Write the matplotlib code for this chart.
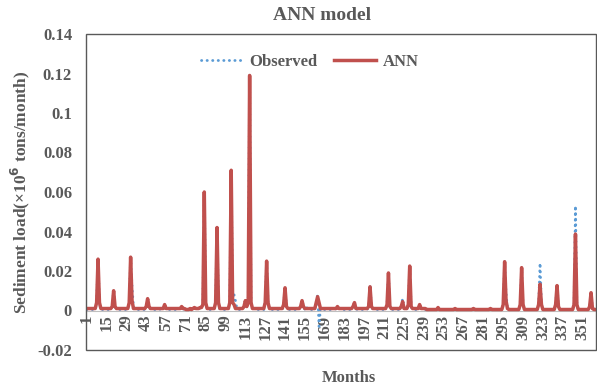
import numpy as np
import matplotlib.pyplot as plt
from matplotlib.patches import Rectangle
from matplotlib.ticker import FuncFormatter

# monthly sediment load (x10^6 tons/month), one row per year (12 months)
ann_rows = [
    [0.001, 0.001, 0.001, 0.001, 0.001, 0.001, 0.001, 0.004, 0.026, 0.004, 0.001, 0.001],
    [0.001, 0.001, 0.001, 0.001, 0.001, 0.001, 0.002, 0.010, 0.002, 0.001, 0.001, 0.001],
    [0.001, 0.001, 0.001, 0.001, 0.001, 0.001, 0.004, 0.027, 0.005, 0.001, 0.001, 0.001],
    [0.001, 0.001, 0.001, 0.001, 0.001, 0.001, 0.002, 0.006, 0.002, 0.001, 0.001, 0.001],
    [0.001, 0.001, 0.001, 0.001, 0.001, 0.001, 0.001, 0.003, 0.001, 0.001, 0.001, 0.001],
    [0.001, 0.001, 0.001, 0.001, 0.001, 0.001, 0.001, 0.002, 0.001, 0.001, 0.0005, 0.0005],
    [0.0005, 0.001, 0.0005, 0.001, 0.0015, 0.001, 0.001, 0.001, 0.0015, 0.0015, 0.003, 0.060],
    [0.004, 0.001, 0.001, 0.001, 0.001, 0.001, 0.001, 0.004, 0.042, 0.004, 0.001, 0.001],
    [0.001, 0.001, 0.001, 0.001, 0.001, 0.004, 0.071, 0.004, 0.003, 0.001, 0.001, 0.001],
    [0.001, 0.001, 0.001, 0.002, 0.005, 0.002, 0.004, 0.119, 0.004, 0.001, 0.001, 0.001],
    [0.001, 0.001, 0.001, 0.001, 0.001, 0.001, 0.004, 0.025, 0.004, 0.001, 0.001, 0.001],
    [0.001, 0.001, 0.001, 0.001, 0.001, 0.001, 0.001, 0.003, 0.0115, 0.002, 0.001, 0.001],
    [0.001, 0.001, 0.001, 0.001, 0.001, 0.001, 0.001, 0.002, 0.005, 0.002, 0.001, 0.001],
    [0.001, 0.001, 0.001, 0.001, 0.001, 0.001, 0.004, 0.007, 0.004, 0.001, 0.001, 0.001],
    [0.001, 0.001, 0.001, 0.001, 0.001, 0.001, 0.001, 0.001, 0.001, 0.002, 0.001, 0.001],
    [0.001, 0.001, 0.001, 0.001, 0.001, 0.001, 0.001, 0.001, 0.002, 0.004, 0.001, 0.001],
    [0.001, 0.001, 0.001, 0.001, 0.001, 0.001, 0.001, 0.002, 0.012, 0.002, 0.001, 0.001],
    [0.001, 0.001, 0.001, 0.001, 0.001, 0.001, 0.001, 0.001, 0.003, 0.019, 0.002, 0.001],
    [0.001, 0.001, 0.001, 0.001, 0.001, 0.001, 0.002, 0.0045, 0.001, 0.001, 0.001, 0.003],
    [0.0225, 0.002, 0.001, 0.001, 0.001, 0.001, 0.001, 0.003, 0.001, 0.001, 0.001, 0.001],
    [0.0005, 0.0005, 0.0005, 0.0005, 0.0005, 0.0005, 0.0005, 0.0005, 0.0015, 0.0005, 0.0005, 0.0005],
    [0.0005, 0.0005, 0.0005, 0.0005, 0.0005, 0.0005, 0.0005, 0.0005, 0.001, 0.0005, 0.0005, 0.0005],
    [0.0005, 0.0005, 0.0005, 0.0005, 0.0005, 0.0005, 0.0005, 0.0005, 0.0005, 0.001, 0.0005, 0.0005],
    [0.0005, 0.0005, 0.0005, 0.0005, 0.0005, 0.0005, 0.0005, 0.0005, 0.0005, 0.001, 0.0005, 0.0005],
    [0.0005, 0.0005, 0.0005, 0.0005, 0.0005, 0.0005, 0.003, 0.0247, 0.005, 0.001, 0.0005, 0.0005],
    [0.0005, 0.0005, 0.0005, 0.0005, 0.0005, 0.0005, 0.003, 0.0217, 0.003, 0.0005, 0.0005, 0.0005],
    [0.0005, 0.0005, 0.0005, 0.0005, 0.0005, 0.0005, 0.0005, 0.003, 0.0133, 0.003, 0.0005, 0.0005],
    [0.0005, 0.0005, 0.0005, 0.0005, 0.0005, 0.0005, 0.0005, 0.003, 0.0126, 0.002, 0.0005, 0.0005],
    [0.0005, 0.0005, 0.0005, 0.0005, 0.0005, 0.0005, 0.0005, 0.0005, 0.003, 0.0387, 0.003, 0.0005],
    [0.0005, 0.0005, 0.0005, 0.0005, 0.0005, 0.0005, 0.0005, 0.002, 0.009, 0.001, 0.0005, 0.0005],
]

obs_rows = [
    [0.0005, 0.0005, 0.0005, 0.0005, 0.0005, 0.0005, 0.0005, 0.004, 0.026, 0.004, 0.0005, 0.0005],
    [0.0005, 0.0005, 0.0005, 0.0005, 0.0005, 0.0005, 0.002, 0.010, 0.002, 0.0005, 0.0005, 0.0005],
    [0.0005, 0.0005, 0.0005, 0.0005, 0.0005, 0.0005, 0.004, 0.027, 0.012, 0.002, 0.0005, 0.0005],
    [0.0005, 0.0005, 0.0005, 0.0005, 0.0005, 0.0005, 0.002, 0.006, 0.002, 0.0005, 0.0005, 0.0005],
    [0.0005, 0.0005, 0.0005, 0.001, 0.0005, 0.0005, 0.0005, 0.003, 0.001, 0.0005, 0.0005, 0.0005],
    [0.0005, 0.0005, 0.0005, 0.0005, 0.0005, 0.0005, 0.001, 0.002, 0.001, 0.0005, 0.0005, 0.0005],
    [0.0005, 0.0005, 0.0005, 0.0005, 0.001, 0.0005, 0.0005, 0.001, 0.001, 0.001, 0.003, 0.060],
    [0.004, 0.001, 0.0005, 0.0005, 0.0005, 0.0005, 0.001, 0.005, 0.042, 0.004, 0.0005, 0.0005],
    [0.0005, 0.0005, 0.0005, 0.0005, 0.001, 0.004, 0.071, 0.004, 0.008, 0.005, 0.001, 0.0005],
    [0.0005, 0.0005, 0.0005, 0.002, 0.005, 0.002, 0.004, 0.119, 0.004, 0.002, 0.0005, 0.0005],
    [0.0005, 0.0005, 0.0005, 0.0005, 0.0005, 0.0005, 0.004, 0.025, 0.004, 0.0005, 0.0005, 0.0005],
    [0.0005, 0.0005, 0.0005, 0.0005, 0.0005, 0.0005, 0.0005, 0.003, 0.0115, 0.002, 0.0005, 0.0005],
    [0.0005, 0.0005, 0.0005, 0.0005, 0.0005, 0.0005, 0.0005, 0.002, 0.005, 0.002, 0.0005, 0.002],
    [0.0005, 0.0005, 0.0005, 0.0005, 0.0005, 0.0005, 0.004, 0.008, -0.008, 0.001, 0.0005, 0.0005],
    [0.0005, 0.0005, 0.0005, 0.0005, 0.0005, 0.0005, 0.0005, 0.0005, 0.001, 0.002, 0.001, 0.0005],
    [0.0005, 0.0005, 0.0005, 0.0005, 0.0005, 0.0005, 0.0005, 0.0005, 0.002, 0.004, 0.001, 0.0005],
    [0.0005, 0.0005, 0.0005, 0.0005, 0.0005, 0.0005, 0.0005, 0.002, 0.012, 0.002, 0.0005, 0.0005],
    [0.0005, 0.0005, 0.0005, 0.0005, 0.0005, 0.0005, 0.0005, 0.0005, 0.003, 0.019, 0.002, 0.0005],
    [0.0005, 0.0005, 0.0005, 0.0005, 0.0005, 0.0005, 0.002, 0.006, 0.001, 0.0005, 0.0005, 0.003],
    [0.0225, 0.002, 0.0005, 0.0005, 0.0005, 0.0005, 0.0005, 0.003, 0.001, 0.0005, 0.0005, 0.0005],
    [0.0005, 0.0005, 0.0005, 0.0005, 0.0005, 0.0005, 0.0005, 0.0005, 0.0015, 0.0005, 0.0005, 0.0005],
    [0.0005, 0.0005, 0.0005, 0.0005, 0.0005, 0.0005, 0.0005, 0.0005, 0.001, 0.0005, 0.0005, 0.0005],
    [0.0005, 0.0005, 0.0005, 0.0005, 0.0005, 0.0005, 0.0005, 0.0005, 0.0005, 0.001, 0.0005, 0.0005],
    [0.0005, 0.0005, 0.0005, 0.0005, 0.0005, 0.0005, 0.0005, 0.0005, 0.0005, 0.001, 0.0005, 0.0005],
    [0.0005, 0.0005, 0.0005, 0.0005, 0.0005, 0.0005, 0.003, 0.0247, 0.009, 0.001, 0.0005, 0.0005],
    [0.0005, 0.0005, 0.0005, 0.0005, 0.0005, 0.0005, 0.003, 0.0217, 0.003, 0.0005, 0.0005, 0.0005],
    [0.0005, 0.0005, 0.0005, 0.0005, 0.0005, 0.0005, 0.0005, 0.003, 0.024, 0.003, 0.0005, 0.0005],
    [0.0005, 0.0005, 0.0005, 0.0005, 0.0005, 0.0005, 0.0005, 0.003, 0.0126, 0.002, 0.0005, 0.0005],
    [0.0005, 0.0005, 0.0005, 0.0005, 0.0005, 0.0005, 0.0005, 0.0005, 0.003, 0.053, 0.003, 0.0005],
    [0.0005, 0.0005, 0.0005, 0.0005, 0.0005, 0.0005, 0.0005, 0.002, 0.009, 0.001, 0.0005, 0.0005],
]

ann = np.array(ann_rows).ravel()
observed = np.array(obs_rows).ravel()
months = np.arange(1, len(ann) + 1)
tick_months = np.arange(1, 352, 14)

grey = "#595959"
plt.rcParams["font.family"] = ["Liberation Serif", "DejaVu Serif"]
plt.rcParams["font.weight"] = "bold"

fig = plt.figure(figsize=(5.97, 3.90), dpi=100)
ax = fig.add_axes([86 / 597, 40 / 390, 510 / 597, 316 / 390])

ax.plot(months, observed, color="#5B9BD5", lw=2.0, ls=(0, (0.1, 1.9)),
        dash_capstyle="round", label="Observed", zorder=3)
ax.plot(months, ann, color="#C0504D", lw=2.5, label="ANN", zorder=4)

ax.set_xlim(0.5, len(ann) + 0.5)
ax.set_ylim(-0.02, 0.14)
ax.set_yticks(np.arange(-0.02, 0.1401, 0.02))
ax.yaxis.set_major_formatter(FuncFormatter(lambda v, p: "%g" % round(v, 2)))
ax.set_xticks(tick_months)
ax.set_xticklabels([str(m) for m in tick_months])

for s in ["top", "right", "left"]:
    ax.spines[s].set_visible(False)
ax.spines["bottom"].set_position(("data", 0))
ax.spines["bottom"].set_color("#BFBFBF")
ax.add_patch(Rectangle((0, 0), 1, 1, transform=ax.transAxes, fill=False,
                       edgecolor=grey, lw=1.0, clip_on=False, zorder=5))

ax.tick_params(axis="both", length=0, colors=grey)
ax.tick_params(axis="x", pad=3, labelsize=12, labelrotation=90)
ax.tick_params(axis="y", pad=10, labelsize=12)

ax.set_ylabel("Sediment load(×10$^6$ tons/month)", color=grey, fontsize=12.5,
              fontweight="bold", labelpad=4)

fig.text(322 / 597, 1 - 15 / 390, "ANN model", ha="center", va="center",
         color=grey, fontsize=14, fontweight="bold")
fig.text(349 / 597, 1 - 378 / 390, "Months", ha="center", va="center",
         color=grey, fontsize=12, fontweight="bold")

leg = ax.legend(loc="center", bbox_to_anchor=(310 / 597, 1 - 62 / 390),
                bbox_transform=fig.transFigure, ncol=2, frameon=False,
                handlelength=2.5, handletextpad=0.4, columnspacing=1.0,
                prop={"size": 12, "weight": "bold"})
for t in leg.get_texts():
    t.set_color(grey)

fig.savefig("out.png", dpi=100)
